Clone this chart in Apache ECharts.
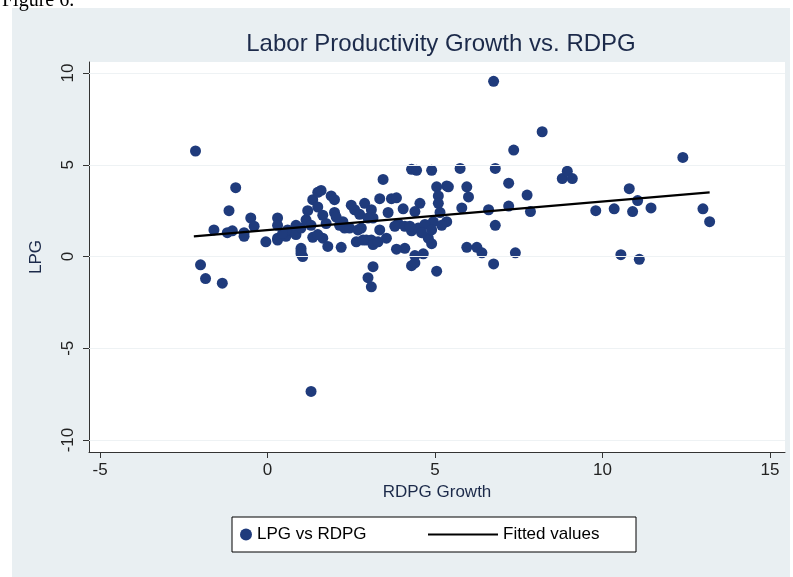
<!DOCTYPE html>
<html>
<head>
<meta charset="utf-8">
<script src="https://cdn.jsdelivr.net/npm/echarts@6/dist/echarts.min.js"></script>
<style>
  html, body { margin: 0; padding: 0; background: #fff; }
  #chart { width: 793px; height: 577px; }
</style>
</head>
<body>
<div id="chart"></div>
<script>
// RDPG growth (x) and labor productivity growth (y)
var rdpg = [-2.15, -2.0, -1.85, -1.35, -0.95, -1.15, -1.6, -1.2, -1.05, -0.7, -0.5, -0.4, -0.7, -0.05, 0.3, 0.3, 0.3, 0.3,
  0.55, 0.6, 0.85, 1.0, 1.0, 1.05, 1.0, 1.15, 1.2, 1.35, 1.5, 1.6, 1.5, 1.65, 1.75, 1.65, 1.8, 1.35, 1.9, 2.0, 1.5,
  2.2, 2.15, 2.3, 2.45, 2.65, 2.95, 2.8, 2.9, 3.1, 3.15, 3.35, 3.45, 3.7, 3.6, 3.85, 3.9, 4.05, 3.8, 4.3, 4.45, 4.9,
  5.05, 5.35, 5.1, 5.1, 5.15, 4.95, 4.9, 5.05, 4.4, 4.65, 4.3, 4.4, 3.35, 3.1, 3.15, 2.6, 2.5, 2.7, 2.25, 2.0, 2.05,
  2.85, 3.15, 3.3, 3.55, 4.1, 4.3, 4.5, 4.7, 4.8, 4.9, 4.6, 4.55, 4.4, 4.25, 4.1, 3.85, 2.75, 3.0, 1.0, 0.85, 0.45,
  1.3, 1.3, 3.0, 3.1, 6.75, 8.2, 7.35, 5.75, 6.8, 5.4, 5.95, 6.0, 7.2, 7.75, 8.8, 8.95, 9.1, 12.4, 10.8, 11.05, 10.9,
  10.35, 9.8, 11.45, 13.0, 13.2, 5.8, 6.6, 7.2, 7.85, 6.8, 5.95, 6.25, 6.4, 6.75, 7.4, 10.55, 11.1, 5.35, 5.2];
var lpg = [5.75, -0.45, -1.2, -1.45, 3.75, 2.5, 1.45, 1.3, 1.4, 1.3, 2.1, 1.65, 1.1, 0.8, 0.9, 1.0, 2.1, 1.7,
  1.1, 1.45, 1.2, 1.55, 0.15, 0.0, 0.3, 2.0, 2.5, 3.1, 3.5, 3.6, 2.7, 2.25, 1.8, 1.0, 0.55, 1.05, 3.3, 3.1, 1.2,
  0.5, 1.7, 1.55, 1.55, 0.8, 0.9, 1.55, 2.9, 2.55, 2.1, 3.15, 4.2, 3.15, 2.4, 3.2, 1.8, 2.6, 1.65, 4.75, 4.7, 4.7,
  3.8, 3.85, 3.3, 2.9, 2.4, 1.9, 0.7, -0.8, 0.05, 0.15, -0.5, -0.35, 1.45, 0.9, -0.55, 2.55, 2.8, 1.45, 1.9, 2.4, 2.15,
  0.9, 0.65, 0.8, 1.0, 1.65, 1.4, 1.55, 1.75, 1.0, 1.45, 1.3, 2.9, 2.45, 1.65, 0.45, 0.4, 2.3, 2.1, 0.45, 1.7, 1.25,
  1.7, -7.35, -1.15, -1.65, 9.55, 6.8, 5.8, 4.8, 4.8, 3.8, 3.8, 3.25, 4.0, 3.35, 4.25, 4.65, 4.25, 5.4, 3.7, 3.05, 2.45,
  2.6, 2.5, 2.65, 2.6, 1.9, 2.65, 2.55, 2.75, 2.45, 1.7, 0.5, 0.5, 0.2, -0.4, 0.2, 0.1, -0.15, 1.9, 1.7];
// fitted line end points
var fitX = [-2.2, 13.2];
var fitY = [1.1, 3.5];
var xTicks = [-5, 0, 5, 10, 15];
var yTicks = [-10, -5, 0, 5, 10];

var pts = rdpg.map(function (x, i) { return [x, lpg[i]]; });
var fit = fitX.map(function (x, i) { return [x, fitY[i]]; });
var font = '"Liberation Sans", Arial, sans-serif';
var legendText = { fontSize: 17, color: '#000', fontFamily: font };

var chart = echarts.init(document.getElementById('chart'));
chart.setOption({
    animation: false,
    textStyle: { fontFamily: font },
    graphic: [
        { type: 'rect', z: -10, shape: { x: 12, y: 8, width: 778, height: 569 }, style: { fill: '#e9eff2' } },
        { type: 'rect', z: -9, shape: { x: 89, y: 62, width: 696, height: 390 }, style: { fill: '#ffffff' } },
        { type: 'rect', z: -8, shape: { x: 232, y: 517, width: 404, height: 35 }, style: { fill: '#fff', stroke: '#000', lineWidth: 1 } },
        { type: 'text', left: 2, top: -9, style: { text: 'Figure 6.', font: '20px "Liberation Serif", serif', fill: '#000' } }
    ],
    title: {
        text: 'Labor Productivity Growth vs. RDPG',
        left: 436, top: 27, textAlign: 'center',
        textStyle: { fontSize: 24, fontWeight: 'normal', color: '#1c2a4a', fontFamily: font }
    },
    legend: [
        {
            left: 240, top: 526, padding: 0, itemWidth: 12, itemHeight: 12, itemGap: 8,
            textStyle: legendText,
            data: [{ name: 'LPG vs RDPG', icon: 'circle' }]
        },
        {
            left: 428, top: 526, padding: 0, itemWidth: 70, itemHeight: 2,
            textStyle: legendText,
            data: [{ name: 'Fitted values', icon: 'rect' }]
        }
    ],
    grid: { left: 89, right: 8, top: 62, bottom: 125 },
    xAxis: {
        type: 'value', min: -5.33, max: 15.45,
        name: 'RDPG Growth', nameLocation: 'middle', nameGap: 32,
        nameTextStyle: { fontSize: 17, color: '#1c2a4a' },
        axisLine: { show: true, onZero: false, lineStyle: { color: '#333' } },
        axisTick: { show: true, length: 6, customValues: xTicks, lineStyle: { color: '#333' } },
        axisLabel: { customValues: xTicks, fontSize: 17, color: '#222', margin: 10 },
        splitLine: { show: false }
    },
    yAxis: {
        type: 'value', min: -10.65, max: 10.6,
        name: 'LPG', nameLocation: 'middle', nameGap: 44,
        nameTextStyle: { fontSize: 17, color: '#1c2a4a' },
        axisLine: { show: true, onZero: false, lineStyle: { color: '#333' } },
        axisTick: { show: true, length: 6, customValues: yTicks, lineStyle: { color: '#333' } },
        axisLabel: { customValues: yTicks, fontSize: 17, color: '#222', rotate: 90, margin: 12 },
        splitLine: { show: false }
    },
    series: [
        {
            name: 'LPG vs RDPG', type: 'scatter', data: pts, symbolSize: 11,
            itemStyle: { color: '#1f3b7c', opacity: 1 },
            markLine: {
                silent: true, symbol: 'none', label: { show: false },
                lineStyle: { color: '#eef2f4', width: 1, type: 'solid' },
                data: yTicks.map(function (v) { return { yAxis: v }; })
            }
        },
        {
            name: 'Fitted values', type: 'line', data: fit, symbol: 'none',
            lineStyle: { color: '#000', width: 2.2 }, itemStyle: { color: '#000' }
        }
    ]
});
</script>
</body>
</html>
